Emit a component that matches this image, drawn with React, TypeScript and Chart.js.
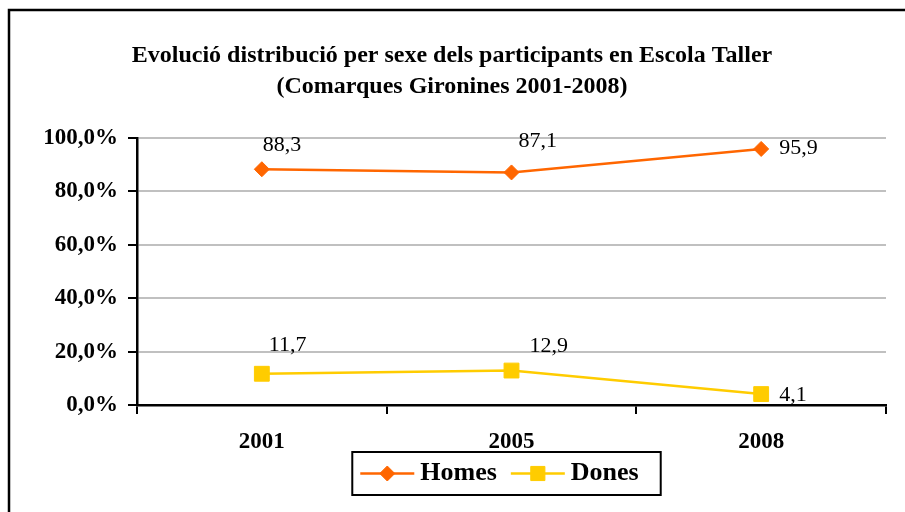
import React, { useEffect, useRef } from "react";
import { Chart, registerables } from "chart.js";

Chart.register(...registerables);

// ---- data ----
const TITLE_LINES = [
  "Evolució distribució per sexe dels participants en Escola Taller",
  "(Comarques Gironines 2001-2008)",
];
const YEARS = ["2001", "2005", "2008"];
const SERIES_NAMES = ["Homes", "Dones"];
const HOMES = [88.3, 87.1, 95.9];
const DONES = [11.7, 12.9, 4.1];
const Y_TICKS = [0, 20, 40, 60, 80, 100];

// ---- style ----
const SERIF = "'Liberation Serif', 'Times New Roman', serif";
const ORANGE = "#FF6600";
const YELLOW = "#FFCC00";
const GRID = "#C0C0C0";
// label offsets (px) relative to each point, left-aligned text
const LABEL_OFFSETS = [
  [[1, -24], [7, -31], [18, -1]],
  [[7, -29], [18, -24], [18, 1]],
];

const fmt = (v: number) => v.toFixed(1).replace(".", ",");

function drawMarker(ctx: CanvasRenderingContext2D, style: string, x: number, y: number, r: number) {
  ctx.beginPath();
  if (style === "rectRot") {
    ctx.moveTo(x, y - r);
    ctx.lineTo(x + r, y);
    ctx.lineTo(x, y + r);
    ctx.lineTo(x - r, y);
  } else {
    const h = r * Math.SQRT1_2;
    ctx.rect(x - h, y - h, 2 * h, 2 * h);
  }
  ctx.closePath();
  ctx.fill();
  ctx.stroke();
}

const decorPlugin = {
  id: "decor",
  beforeDraw(chart: any) {
    const { ctx, width, height } = chart;
    ctx.save();
    ctx.fillStyle = "#fff";
    ctx.fillRect(0, 0, width, height);
    ctx.strokeStyle = "#000";
    ctx.lineWidth = 2.5;
    ctx.beginPath();
    ctx.moveTo(9, height + 5);
    ctx.lineTo(9, 10);
    ctx.lineTo(width + 5, 10);
    ctx.stroke();
    ctx.restore();
  },
  afterDatasetsDraw(chart: any) {
    const { ctx } = chart;
    ctx.save();
    ctx.font = `22px ${SERIF}`;
    ctx.fillStyle = "#000";
    ctx.textAlign = "left";
    ctx.textBaseline = "middle";
    chart.data.datasets.forEach((ds: any, di: number) => {
      const meta = chart.getDatasetMeta(di);
      meta.data.forEach((pt: any, i: number) => {
        const [dx, dy] = LABEL_OFFSETS[di][i];
        ctx.fillText(fmt(ds.data[i]), pt.x + dx, pt.y + dy);
      });
    });
    ctx.restore();
  },
  afterDraw(chart: any) {
    const { ctx, chartArea } = chart;
    ctx.save();
    // title
    ctx.fillStyle = "#000";
    ctx.font = `bold 24px ${SERIF}`;
    ctx.textAlign = "center";
    ctx.textBaseline = "alphabetic";
    const cx = 452;
    ctx.fillText(TITLE_LINES[0], cx, 62);
    ctx.fillText(TITLE_LINES[1], cx, 93);

    // legend
    ctx.font = `bold 26px ${SERIF}`;
    const lineLen = 54;
    const gapAfterLine = 6;
    const gapBetween = 14;
    const padL = 8;
    const padR = 22;
    const items = chart.data.datasets.map((ds: any) => ({
      label: ds.label,
      color: ds.borderColor,
      style: ds.pointStyle,
      w: ctx.measureText(ds.label).width,
    }));
    let total = padL + padR;
    items.forEach((it: any, i: number) => {
      total += lineLen + gapAfterLine + it.w + (i < items.length - 1 ? gapBetween : 0);
    });
    const boxH = 43;
    const boxCx = (chartArea.left + chartArea.right) / 2 - 5;
    const bx = boxCx - total / 2;
    const by = 452;
    ctx.lineWidth = 2;
    ctx.strokeStyle = "#000";
    ctx.strokeRect(bx, by, total, boxH);
    const cy = by + boxH / 2;
    let x = bx + padL;
    items.forEach((it: any) => {
      ctx.strokeStyle = it.color;
      ctx.lineWidth = 2.5;
      ctx.beginPath();
      ctx.moveTo(x, cy);
      ctx.lineTo(x + lineLen, cy);
      ctx.stroke();
      ctx.fillStyle = it.color;
      ctx.lineWidth = 1;
      const r = it.style === "rect" ? 10 : 7.5;
      drawMarker(ctx, it.style, x + lineLen / 2, cy, r);
      x += lineLen + gapAfterLine;
      ctx.fillStyle = "#000";
      ctx.textAlign = "left";
      ctx.textBaseline = "middle";
      ctx.fillText(it.label, x, cy);
      x += it.w + gapBetween;
    });
    ctx.restore();
  },
};

export default function App() {
  const ref = useRef<HTMLCanvasElement | null>(null);
  useEffect(() => {
    if (!ref.current) return;
    const chart = new Chart(ref.current, {
      type: "line",
      data: {
        labels: YEARS,
        datasets: [
          {
            label: SERIES_NAMES[0],
            data: HOMES,
            borderColor: ORANGE,
            backgroundColor: ORANGE,
            borderWidth: 2.5,
            pointStyle: "rectRot",
            pointRadius: 7.5,
            pointBorderWidth: 1,
            pointBorderColor: ORANGE,
            pointBackgroundColor: ORANGE,
            tension: 0,
          },
          {
            label: SERIES_NAMES[1],
            data: DONES,
            borderColor: YELLOW,
            backgroundColor: YELLOW,
            borderWidth: 2.5,
            pointStyle: "rect",
            pointRadius: 10.5,
            pointBorderWidth: 1,
            pointBorderColor: YELLOW,
            pointBackgroundColor: YELLOW,
            tension: 0,
          },
        ],
      },
      options: {
        responsive: false,
        animation: false,
        events: [],
        layout: { padding: { top: 138, right: 19, bottom: 0, left: 0 } },
        plugins: {
          legend: { display: false },
          title: { display: false },
          tooltip: { enabled: false },
        },
        scales: {
          x: {
            type: "category",
            offset: true,
            grid: {
              display: true,
              drawOnChartArea: false,
              drawTicks: true,
              tickLength: 9,
              color: "#000",
              lineWidth: 2,
              offset: true,
            },
            border: { display: true, color: "#000", width: 2.5 },
            ticks: {
              color: "#000",
              padding: 14,
              font: { family: SERIF, size: 23, weight: "bold" },
            },
            afterFit: (s: any) => {
              s.height = 107;
            },
          },
          y: {
            min: 0,
            max: 100,
            grid: {
              color: GRID,
              lineWidth: 2,
              tickColor: "#000",
              tickLength: 9,
              drawTicks: true,
            },
            border: { display: true, color: "#000", width: 2.5 },
            afterBuildTicks: (s: any) => {
              s.ticks = Y_TICKS.map((v) => ({ value: v }));
            },
            ticks: {
              color: "#000",
              padding: 10,
              font: { family: SERIF, size: 23, weight: "bold" },
              callback: (v: any) => fmt(Number(v)) + "%",
            },
            afterFit: (s: any) => {
              s.width = 137;
            },
          },
        },
      },
      plugins: [decorPlugin],
    } as any);
    return () => chart.destroy();
  }, []);
  return (
    <div style={{ position: "absolute", left: 0, top: 0, width: 905, height: 512 }}>
      <canvas ref={ref} width={905} height={512} style={{ width: 905, height: 512, display: "block" }} />
    </div>
  );
}
